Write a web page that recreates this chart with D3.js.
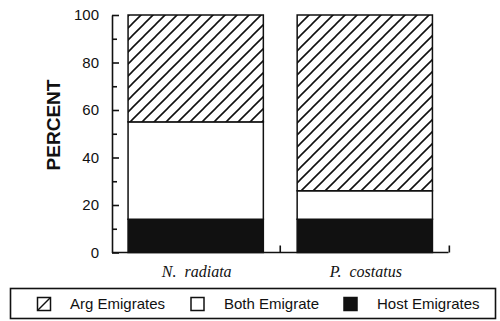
<!DOCTYPE html>
<html>
<head>
<meta charset="utf-8">
<script src="https://cdn.jsdelivr.net/npm/d3@7"></script>
<style>
  html, body { margin: 0; padding: 0; background: #fff; }
  svg { display: block; }
  text { fill: #111; }
</style>
</head>
<body>
<svg id="chart" width="500" height="321"></svg>
<script>
// ---- data ----
const categories = ["N.\u00a0\u00a0radiata", "P.\u00a0\u00a0costatus"];
const seriesNames = ["Host Emigrates", "Both Emigrate", "Arg Emigrates"];
const hostValues = [14, 14];
const bothValues = [41, 12];
const argValues  = [45, 74];
const yTicks = [0, 20, 40, 60, 80, 100];
const yMinorTicks = [10, 30, 50, 70, 90];
const legendOrder = ["Arg Emigrates", "Both Emigrate", "Host Emigrates"];

// ---- build ----
const svg = d3.select("#chart");
const ink = "#111";

const defs = svg.append("defs");
const pat = defs.append("pattern")
  .attr("id", "hatch")
  .attr("patternUnits", "userSpaceOnUse")
  .attr("width", 12).attr("height", 12);
pat.append("rect").attr("width", 12).attr("height", 12).attr("fill", "#fff");
pat.append("path")
  .attr("d", "M-3,3 L3,-3 M0,12 L12,0 M9,15 L15,9")
  .attr("stroke", ink).attr("stroke-width", 1.6).attr("fill", "none");

const fills = {
  "Host Emigrates": ink,
  "Both Emigrate": "#fff",
  "Arg Emigrates": "url(#hatch)"
};

const x = d3.scaleBand()
  .domain(categories)
  .range([112, 448.5])
  .paddingInner(0.2)
  .paddingOuter(0.095);

const y = d3.scaleLinear().domain([0, 100]).range([252.5, 15]);

const table = categories.map((c, i) => ({
  cat: c,
  "Host Emigrates": hostValues[i],
  "Both Emigrate": bothValues[i],
  "Arg Emigrates": argValues[i]
}));
const stacked = d3.stack().keys(seriesNames)(table);

// bars
const layers = svg.append("g").selectAll("g")
  .data(stacked).join("g")
  .attr("fill", d => fills[d.key]);
layers.selectAll("rect")
  .data(d => d)
  .join("rect")
  .attr("x", d => x(d.data.cat))
  .attr("width", x.bandwidth())
  .attr("y", d => y(d[1]))
  .attr("height", d => y(d[0]) - y(d[1]))
  .attr("stroke", ink)
  .attr("stroke-width", 1.5);

// y axis (ticks pointing inward)
const yAxis = svg.append("g")
  .attr("transform", "translate(112,0)")
  .call(d3.axisLeft(y).tickValues(yTicks).tickSize(-7).tickSizeOuter(0).tickPadding(13)
        .tickFormat(d3.format("d")));
yAxis.select(".domain").attr("stroke", ink).attr("stroke-width", 1.6);
yAxis.selectAll(".tick line").attr("stroke", ink).attr("stroke-width", 1.6);
yAxis.selectAll(".tick text")
  .attr("font-family", "'Liberation Sans', Arial, Helvetica, sans-serif")
  .attr("font-size", 15).attr("fill", ink);

const yMinor = svg.append("g")
  .attr("transform", "translate(112,0)")
  .call(d3.axisLeft(y).tickValues(yMinorTicks).tickSize(-5).tickSizeOuter(0).tickFormat(""));
yMinor.select(".domain").remove();
yMinor.selectAll(".tick line").attr("stroke", ink).attr("stroke-width", 1.6);

// x axis baseline with ticks pointing up at category cell boundaries
const xAxisG = svg.append("g");
const x0 = x.range()[0], x1 = x.range()[1];
xAxisG.append("line")
  .attr("x1", x0).attr("x2", x1)
  .attr("y1", y(0)).attr("y2", y(0))
  .attr("stroke", ink).attr("stroke-width", 1.6);
const gapHalf = x.step() * x.paddingInner() / 2;
xAxisG.selectAll("line.xt")
  .data(categories).join("line")
  .attr("class", "xt")
  .attr("x1", d => x(d) + x.bandwidth() + gapHalf)
  .attr("x2", d => x(d) + x.bandwidth() + gapHalf)
  .attr("y1", y(0)).attr("y2", y(0) - 7)
  .attr("stroke", ink).attr("stroke-width", 1.6);

xAxisG.selectAll("text.xl")
  .data(categories).join("text")
  .attr("class", "xl")
  .attr("x", d => x(d) + x.bandwidth() / 2 + 1)
  .attr("y", 277)
  .attr("text-anchor", "middle")
  .attr("font-family", "'Liberation Serif', 'Times New Roman', serif")
  .attr("font-style", "italic")
  .attr("font-size", 16)
  .text(d => d);

// y label
svg.append("text")
  .attr("transform", "translate(60,125) rotate(-90)")
  .attr("text-anchor", "middle")
  .attr("font-family", "'Liberation Sans', Arial, Helvetica, sans-serif")
  .attr("font-weight", "bold")
  .attr("font-size", 19)
  .text("PERCENT");

// legend
const leg = svg.append("g");
leg.append("rect")
  .attr("x", 10.5).attr("y", 288.5).attr("width", 485).attr("height", 30)
  .attr("fill", "#fff").attr("stroke", ink).attr("stroke-width", 1.6);
const swatchX = [37.5, 191, 344];
const textX = [70, 224, 377];
const items = leg.selectAll("g.item").data(legendOrder).join("g").attr("class", "item");
items.append("rect")
  .attr("x", (d, i) => swatchX[i]).attr("y", 297.5)
  .attr("width", 13).attr("height", 13)
  .attr("fill", d => d === "Host Emigrates" ? ink : "#fff")
  .attr("stroke", ink).attr("stroke-width", 1.5);
items.filter(d => d === "Arg Emigrates").append("line")
  .attr("x1", swatchX[0]).attr("y1", 310.5)
  .attr("x2", swatchX[0] + 13).attr("y2", 297.5)
  .attr("stroke", ink).attr("stroke-width", 1.5);
items.append("text")
  .attr("x", (d, i) => textX[i]).attr("y", 308.5)
  .attr("font-family", "'Liberation Sans', Arial, Helvetica, sans-serif")
  .attr("font-size", 15)
  .text(d => d);
</script>
</body>
</html>
